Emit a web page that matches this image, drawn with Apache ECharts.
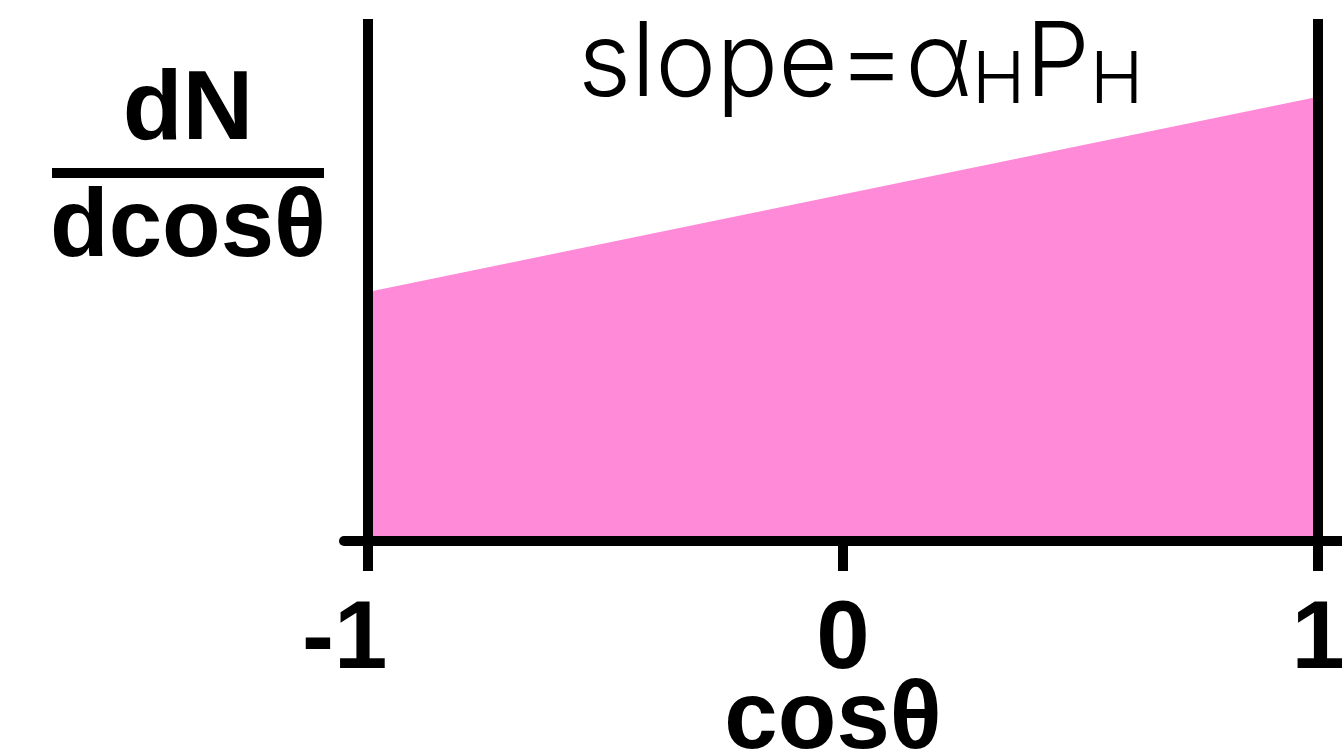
<!DOCTYPE html>
<html lang="en">
<head>
    <meta charset="UTF-8">
    <title>dN/dcosθ</title>
    <script src="https://cdn.jsdelivr.net/npm/echarts@6/dist/echarts.min.js"></script>
    <style>
        html, body { margin: 0; padding: 0; background: #fff; }
    </style>
</head>
<body>
<div id="main" style="width: 1342px;height:753px;"></div>
<script type="text/javascript">
    // data
    var cosTheta = [-1, 1];
    var dNdcos = [0.477, 0.851];
    var tickValues = [-1, 0, 1];
    var edgeLines = [-1, 1];

    var myChart = echarts.init(document.getElementById('main'));

    var boldFont = '"Liberation Sans", Arial, Helvetica, sans-serif';
    var thinFont = 'Inter, "Liberation Sans", sans-serif';

    var option = {
        animation: false,
        backgroundColor: '#fff',
        title: [{
            // y axis label as a fraction
            left: 52,
            top: 56,
            padding: 0,
            text: '{n|dN}\n{b|}\n{d|dcosθ}',
            textStyle: {
                rich: {
                    n: {width: 272, align: 'center', fontSize: 98, fontWeight: 'bold', fontFamily: boldFont, color: '#000', lineHeight: 112},
                    b: {width: 272, height: 10, lineHeight: 10, backgroundColor: '#000'},
                    d: {width: 272, align: 'center', fontSize: 96, fontWeight: 'bold', fontFamily: boldFont, color: '#000', lineHeight: 104}
                }
            }
        }, {
            left: 578,
            top: 14,
            padding: 0,
            text: '{a|slope=α}{s|H}{a|P}{s|H}',
            textStyle: {
                rich: {
                    a: {fontSize: 103, fontWeight: 300, fontFamily: thinFont, color: '#000', lineHeight: 103, verticalAlign: 'bottom'},
                    s: {fontSize: 72, fontWeight: 300, fontFamily: thinFont, color: '#000', lineHeight: 62, verticalAlign: 'bottom'}
                }
            }
        }],
        grid: {
            left: 344,
            right: 0,
            top: 19,
            bottom: 212,
            containLabel: false,
            outerBoundsMode: 'none'
        },
        xAxis: {
            type: 'value',
            z: 10,
            min: -1.05,
            max: 1.05,
            name: 'cosθ',
            nameLocation: 'middle',
            nameGap: 133,
            nameMoveOverlap: false,
            nameTextStyle: {
                fontSize: 96,
                fontWeight: 'bold',
                fontFamily: boldFont,
                color: '#000',
                padding: [0, 20, 0, 0]
            },
            axisLine: {
                show: true,
                lineStyle: {color: '#000', width: 10}
            },
            axisTick: {
                show: true,
                customValues: tickValues,
                length: 30,
                lineStyle: {color: '#000', width: 10}
            },
            axisLabel: {
                customValues: tickValues,
                margin: 53,
                fontSize: 96,
                fontWeight: 'bold',
                fontFamily: boldFont,
                color: '#000',
                formatter: function (v) {
                    return v === -1 ? '{m|-1}' : String(v);
                },
                rich: {
                    m: {fontSize: 96, fontWeight: 'bold', fontFamily: boldFont, color: '#000', padding: [0, 46, 0, 0]}
                }
            },
            splitLine: {show: false}
        },
        yAxis: {
            type: 'value',
            min: 0,
            max: 1,
            show: false
        },
        series: [{
            type: 'line',
            data: cosTheta.map(function (x, i) {
                return [x, dNdcos[i]];
            }),
            showSymbol: false,
            silent: true,
            lineStyle: {width: 0},
            areaStyle: {color: '#ff8ad8', opacity: 1},
            markLine: {
                silent: true,
                symbol: 'none',
                label: {show: false},
                lineStyle: {color: '#000', width: 10, type: 'solid'},
                data: edgeLines.map(function (x) {
                    return {xAxis: x};
                })
            }
        }]
    };
    myChart.setOption(option);
</script>

</body>
</html>
